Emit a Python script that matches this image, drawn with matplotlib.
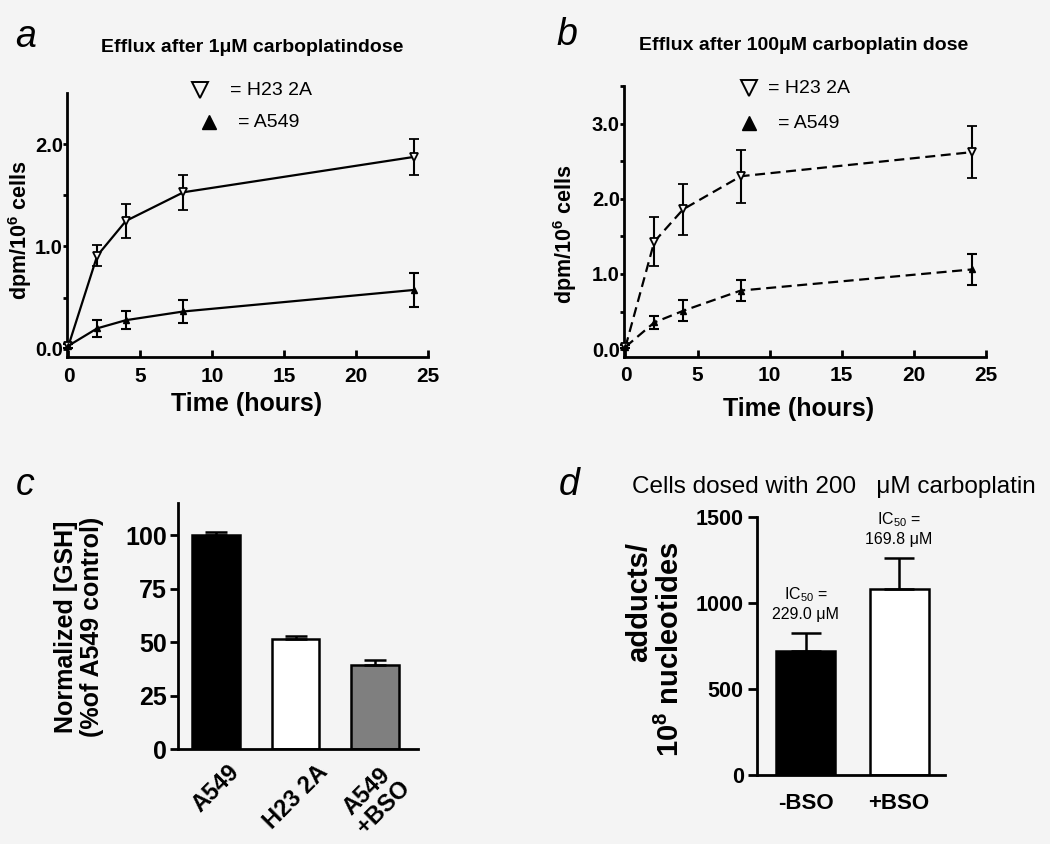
import matplotlib
matplotlib.use("Agg")
import matplotlib.pyplot as plt
import numpy as np

plt.rcParams['font.family'] = ['Liberation Sans', 'DejaVu Sans']
plt.rcParams['mathtext.default'] = 'regular'

BG = '#f4f4f4'

# ---- data ----
time_h = [0, 2, 4, 8, 24]
a_h23 = [0.03, 0.91, 1.25, 1.53, 1.875]
a_h23_err = [0.02, 0.10, 0.17, 0.17, 0.18]
a_a549 = [0.03, 0.20, 0.28, 0.365, 0.575]
a_a549_err = [0.02, 0.08, 0.09, 0.11, 0.17]

b_h23 = [0.03, 1.43, 1.86, 2.30, 2.62]
b_h23_err = [0.02, 0.33, 0.34, 0.35, 0.35]
b_a549 = [0.03, 0.355, 0.51, 0.78, 1.06]
b_a549_err = [0.02, 0.08, 0.14, 0.14, 0.20]

c_labels = ['A549', 'H23 2A', 'A549\n+BSO']
c_values = [100, 51.5, 39.5]
c_err = [1.5, 1.3, 2.0]
c_colors = ['black', 'white', '#7f7f7f']

d_labels = ['-BSO', '+BSO']
d_values = [720, 1080]
d_err = [105, 180]
d_colors = ['black', 'white']
d_notes = ['IC$_{50}$ =\n229.0 μM', 'IC$_{50}$ =\n169.8 μM']

W, H = 1050, 844
fig = plt.figure(figsize=(W / 100, H / 100), dpi=100, facecolor=BG)


def px_axes(left, right, top, bottom):
    return fig.add_axes([left / W, 1 - bottom / H, (right - left) / W, (bottom - top) / H])


def style(ax):
    ax.set_facecolor('none')
    for s in ['top', 'right']:
        ax.spines[s].set_visible(False)
    for s in ['left', 'bottom']:
        ax.spines[s].set_linewidth(2.0)


def line_panel(ax, h23, h23e, a549, a549e, ls, ylim, yticks, yminor):
    style(ax)
    ax.errorbar(time_h, h23, yerr=h23e, color='black', lw=1.6, ls=ls,
                marker='v', ms=6, mfc=BG, mec='black', mew=1.3,
                capsize=3.8, capthick=1.5, elinewidth=1.5, clip_on=False, zorder=3)
    ax.errorbar(time_h, a549, yerr=a549e, color='black', lw=1.6, ls=ls,
                marker='^', ms=5, mfc='black', mec='black',
                capsize=3.8, capthick=1.5, elinewidth=1.5, clip_on=False, zorder=3)
    ax.set_xlim(-0.1, 25)
    ax.set_ylim(*ylim)
    ax.set_xticks([0, 5, 10, 15, 20, 25])
    ax.set_yticks(yticks)
    ax.set_yticks(yminor, minor=True)
    ax.set_yticklabels([f'{v:.1f}' for v in yticks])
    ax.tick_params(axis='x', direction='in', length=5, width=2, pad=7,
                   labelsize=15)
    ax.tick_params(axis='y', which='both', direction='out', length=3, width=2,
                   pad=0, labelsize=14.5)
    for lab in ax.get_xticklabels() + ax.get_yticklabels():
        lab.set_fontweight('bold')


# ---- panel a ----
axa = px_axes(67, 428, 93, 357)
line_panel(axa, a_h23, a_h23_err, a_a549, a_a549_err, '-',
           (-0.08, 2.5), [0.0, 1.0, 2.0], [0.5, 1.5])
axa.plot([0.368], [1.011], marker='v', ms=11, mfc=BG, mec='black', mew=1.4,
         transform=axa.transAxes, clip_on=False, ls='none')
axa.text(0.4515, 1.011, '= H23 2A', transform=axa.transAxes, fontsize=14,
         va='center', ha='left')
axa.plot([0.393], [0.89], marker='^', ms=10, mfc='black', mec='black',
         transform=axa.transAxes, clip_on=False, ls='none')
axa.text(0.4737, 0.89, '= A549', transform=axa.transAxes, fontsize=14,
         va='center', ha='left')

# ---- panel b ----
axb = px_axes(624, 986, 86, 356.7)
line_panel(axb, b_h23, b_h23_err, b_a549, b_a549_err, (0, (4.5, 2.5)),
           (-0.1, 3.5), [0.0, 1.0, 2.0, 3.0], [0.5, 1.5, 2.5, 3.5])
axb.plot([0.345], [0.9926], marker='v', ms=11, mfc=BG, mec='black', mew=1.4,
         transform=axb.transAxes, clip_on=False, ls='none')
axb.text(0.398, 0.9926, '= H23 2A', transform=axb.transAxes, fontsize=14,
         va='center', ha='left')
axb.plot([0.345], [0.863], marker='^', ms=10, mfc='black', mec='black',
         transform=axb.transAxes, clip_on=False, ls='none')
axb.text(0.425, 0.863, '= A549', transform=axb.transAxes, fontsize=14,
         va='center', ha='left')

# titles / labels for a, b
fig.text(252 / W, 1 - 48 / H, 'Efflux after 1μM carboplatindose', fontsize=14,
         fontweight='bold', ha='center', va='center')
fig.text(804 / W, 1 - 46 / H, 'Efflux after 100μM carboplatin dose', fontsize=14,
         fontweight='bold', ha='center', va='center')
fig.text(20 / W, 1 - 230 / H, 'dpm/10$^6$ cells', rotation=90, fontsize=15.5,
         fontweight='bold', ha='center', va='center')
fig.text(565 / W, 1 - 234 / H, 'dpm/10$^6$ cells', rotation=90, fontsize=15.5,
         fontweight='bold', ha='center', va='center')
fig.text(247 / W, 1 - 404 / H, 'Time (hours)', fontsize=18, fontweight='bold',
         ha='center', va='center')
fig.text(799 / W, 1 - 409 / H, 'Time (hours)', fontsize=18, fontweight='bold',
         ha='center', va='center')

# ---- panel c ----
axc = px_axes(178, 418, 503, 749.3)
style(axc)
xc = np.arange(len(c_values))
axc.bar(xc, c_values, width=0.6, color=c_colors, edgecolor='black', linewidth=1.8,
        zorder=2)
axc.errorbar(xc, c_values, yerr=[[0] * len(c_err), c_err], fmt='none',
             ecolor='black', elinewidth=1.8, capsize=8, capthick=1.8, zorder=3)
axc.set_xlim(-0.478, 2.54)
axc.set_ylim(0, 115)
axc.set_yticks([0, 25, 50, 75, 100])
axc.set_xticks(xc)
axc.set_xticklabels(c_labels, rotation=45, ha='center', fontsize=17,
                    fontweight='bold', linespacing=1.0)
axc.tick_params(axis='x', length=0, pad=8)
axc.tick_params(axis='y', length=6, width=2, pad=2, labelsize=18)
for lab in axc.get_yticklabels():
    lab.set_fontweight('bold')
fig.text(79 / W, 1 - 627 / H, 'Normalized [GSH]\n(%of A549 control)', rotation=90,
         fontsize=18, fontweight='bold', ha='center', va='center',
         multialignment='center', linespacing=1.1)

# ---- panel d ----
axd = px_axes(757, 945, 516.7, 775)
style(axd)
xd = np.arange(len(d_values))
axd.bar(xd, d_values, width=0.63, color=d_colors, edgecolor='black', linewidth=1.8,
        zorder=2)
axd.errorbar(xd, d_values, yerr=[[0] * len(d_err), d_err], fmt='none',
             ecolor='black', elinewidth=1.8, capsize=11, capthick=1.8, zorder=3)
for x, v, e, note in zip(xd, d_values, d_err, d_notes):
    axd.annotate(note, (x, v + e), xytext=(0, 8), textcoords='offset points',
                 ha='center', va='bottom', fontsize=11.5, linespacing=1.25,
                 annotation_clip=False)
axd.set_xlim(-0.52, 1.49)
axd.set_ylim(0, 1500)
axd.set_yticks([0, 500, 1000, 1500])
axd.set_xticks(xd)
axd.set_xticklabels(d_labels, fontsize=16, fontweight='bold')
axd.tick_params(axis='x', length=0, pad=13)
axd.tick_params(axis='y', length=6.5, width=2, pad=3, labelsize=15.5)
for lab in axd.get_yticklabels():
    lab.set_fontweight('bold')
fig.text(655 / W, 1 - 649.5 / H, 'adducts/\n10$^8$ nucleotides', rotation=90,
         fontsize=21, fontweight='bold', ha='center', va='center',
         multialignment='right', linespacing=1.15)
fig.text(632 / W, 1 - 493 / H, 'Cells dosed with 200   μM carboplatin',
         fontsize=17.5, ha='left', va='baseline')

# panel letters
for letter, x, y in [('a', 15, 47), ('b', 556, 45), ('c', 16, 495), ('d', 559, 495)]:
    fig.text(x / W, 1 - y / H, letter, fontsize=27, fontstyle='italic',
             ha='left', va='baseline')

fig.savefig('out.png', dpi=100, facecolor=BG)
